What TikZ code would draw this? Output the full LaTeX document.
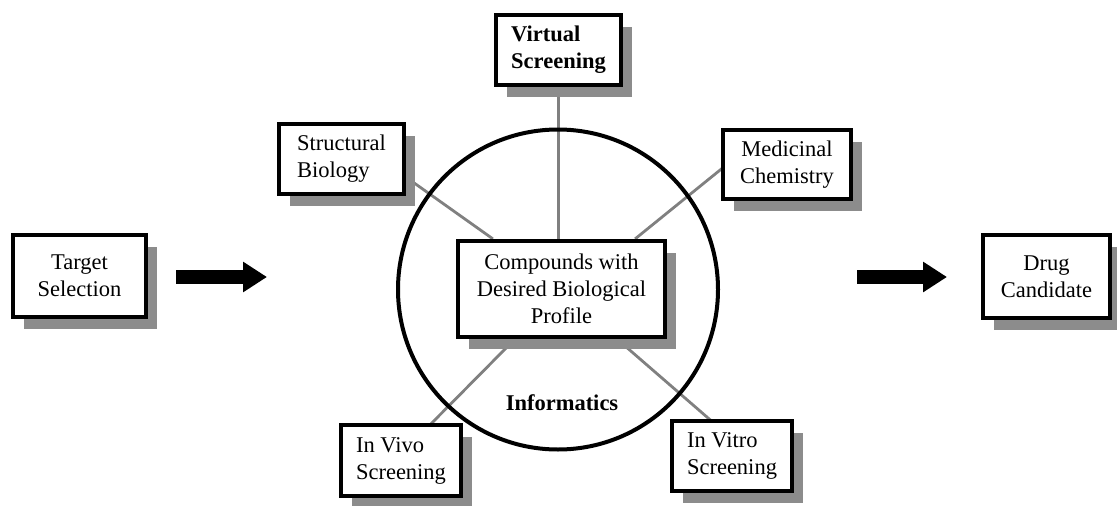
\documentclass[tikz,border=0pt]{standalone}
\usepackage{fontspec}
\setmainfont{Liberation Serif}
\usetikzlibrary{shadows,arrows.meta,calc}
\pgfdeclarelayer{bg}
\pgfsetlayers{bg,main}
\definecolor{shade}{gray}{0.55}
\definecolor{linkgray}{gray}{0.5}
\newcommand\boxfont{\fontsize{22.5}{27}\selectfont}
\tikzset{
  box/.style={draw=black, line width=4.2pt, fill=white, inner sep=0pt,
    font=\boxfont, align=center,
    copy shadow={shadow xshift=11pt, shadow yshift=-12pt, draw=none, fill=shade}},
  link/.style={draw=linkgray, line width=2.8pt},
  bigarrow/.style={draw=black, line width=14pt, -{Triangle[length=24pt,width=29pt]}},
  ring/.style={draw=black, line width=4pt, circle, inner sep=0pt},
  label/.style={font=\boxfont\bfseries},
}
\begin{document}
\begin{tikzpicture}[x=1pt,y=-1pt]
\useasboundingbox (0,0) rectangle (1117,506);

% circle
\node[ring, minimum size=320pt] (ring) at (558,289.5) {};
\node[label] (inf) at (562,403) {Informatics};

% boxes
\node[box, minimum width=133pt, minimum height=82pt] (ts) at (79.5,276) {Target\\Selection};
\node[box, minimum width=125pt, minimum height=70pt, align=left, font=\boxfont\bfseries] (vs) at (558.5,50) {Virtual\\Screening};
\node[box, minimum width=125pt, minimum height=70pt, align=left] (sb) at (341.5,159) {Structural\\Biology};
\node[box, minimum width=128pt, minimum height=69pt] (mc) at (787,164.5) {Medicinal\\Chemistry};
\node[box, minimum width=207pt, minimum height=96pt] (cmp) at (561.5,289) {Compounds with\\Desired Biological\\Profile};
\node[box, minimum width=120pt, minimum height=71pt, align=left] (iv) at (401,460.5) {In Vivo\\Screening};
\node[box, minimum width=120pt, minimum height=70pt, align=left] (ivt) at (732,456) {In Vitro\\Screening};
\node[box, minimum width=127pt, minimum height=83pt] (dc) at (1046.5,276.5) {Drug\\Candidate};

% links
\begin{pgfonlayer}{bg}
\draw[link] ([xshift=37pt]cmp.north west) -- ([xshift=-6pt,yshift=-14pt]sb.east);
\draw[link] (vs.south) -- (vs.south |- cmp.north);
\draw[link] ([xshift=-32pt]cmp.north east) -- ([xshift=6pt]mc.west);
\draw[link] ([xshift=59pt]cmp.south west) -- ([xshift=24pt,yshift=-7pt]iv.north);
\draw[link] ([xshift=-50pt]cmp.south east) -- ([xshift=-16pt,yshift=-6pt]ivt.north);
\end{pgfonlayer}

% arrows
\coordinate (a1s) at (176,277);
\coordinate (a1e) at (267,277);
\coordinate (a2s) at (857,277);
\coordinate (a2e) at (947,277);
\draw[bigarrow] (a1s) -- (a1e);
\draw[bigarrow] (a2s) -- (a2e);
\end{tikzpicture}
\end{document}
